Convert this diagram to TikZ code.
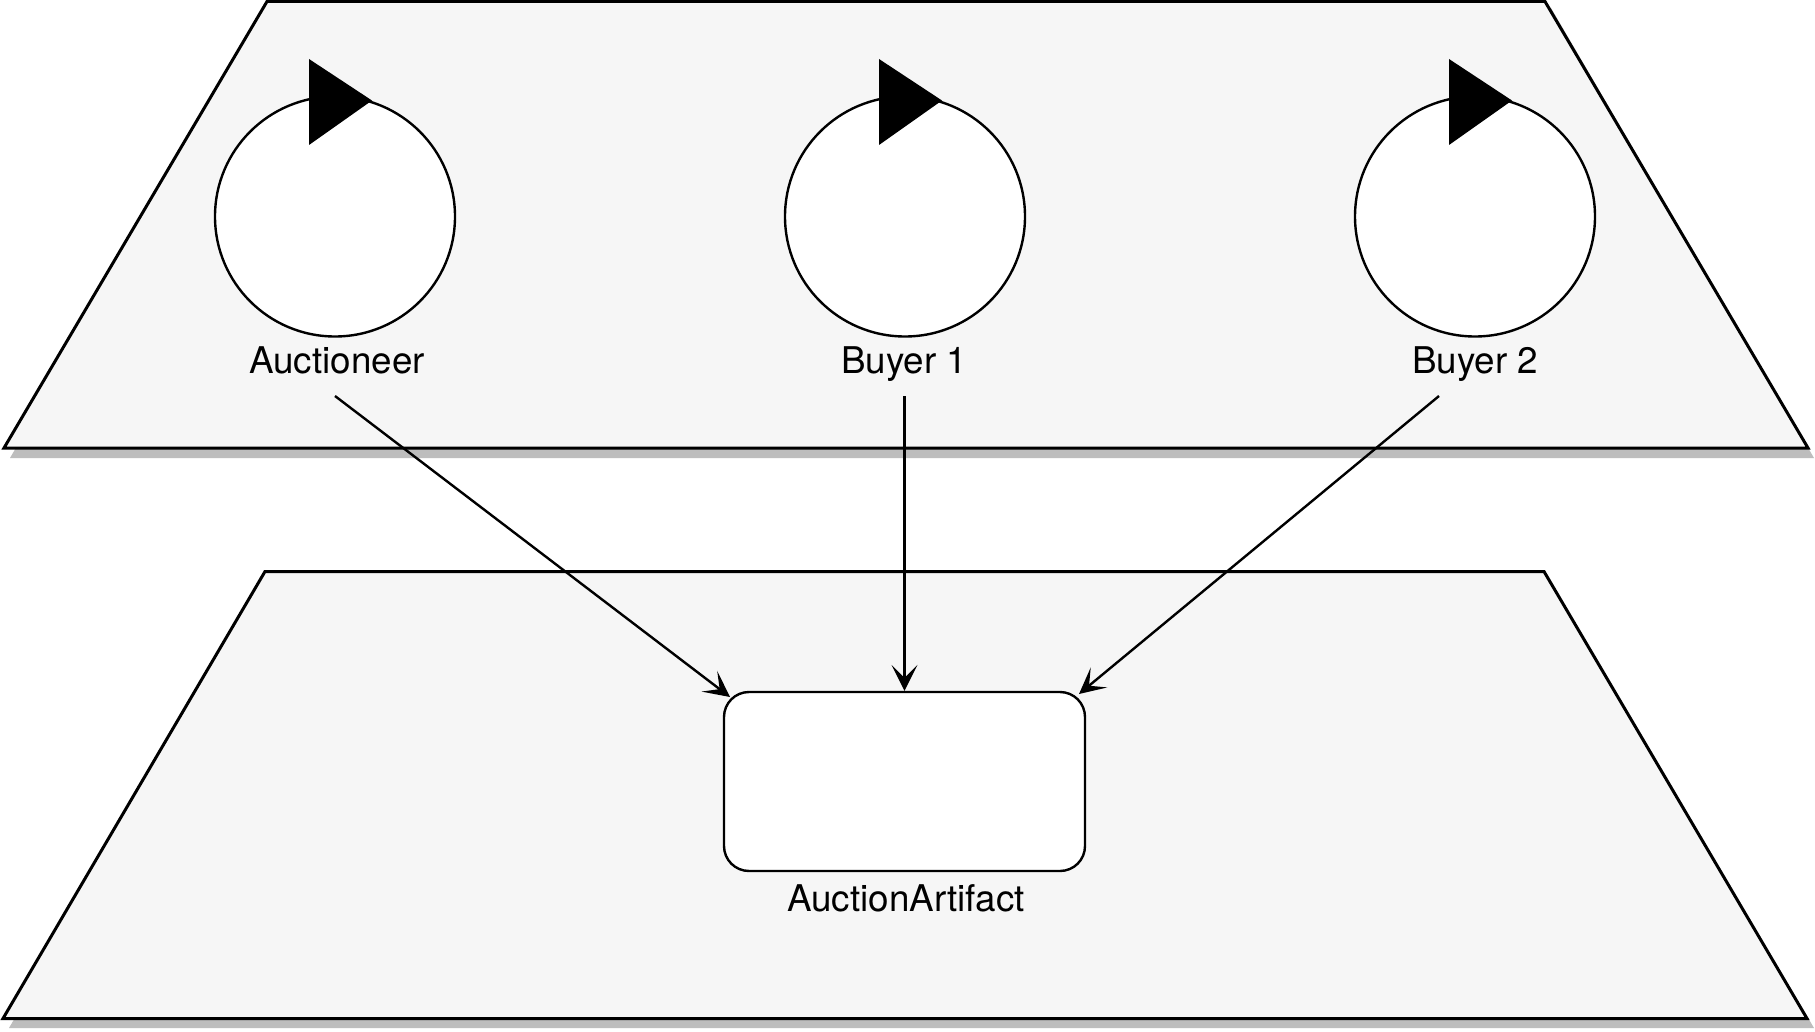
\documentclass[tikz,border=0pt]{standalone}
\usepackage{fontspec}
\setmainfont{TeX Gyre Heros}
\usetikzlibrary{arrows.meta}
\definecolor{panelfill}{HTML}{F6F6F6}
\definecolor{panelshadow}{HTML}{BDBDBD}
\tikzset{
  panel/.style={draw=black,fill=panelfill,line width=1.5pt,line join=miter},
  panelshade/.style={fill=panelshadow,draw=none},
  agent/.style={circle,draw=black,fill=white,line width=1.2pt,minimum size=120pt,inner sep=0pt},
  playmark/.style={fill=black,draw=none},
  artifact/.style={rectangle,draw=black,fill=white,line width=1.2pt,rounded corners=12.5pt,minimum width=180.5pt,minimum height=89.5pt,inner sep=0pt},
  caption/.style={anchor=base,inner sep=0pt,font=\fontsize{18.4pt}{22pt}\selectfont,text=black},
  link/.style={draw=black,line width=1.2pt,-{Stealth[length=13pt,width=13pt,inset=6.5pt,line width=0pt]}}
}
\begin{document}
\begin{tikzpicture}[x=0.5pt,y=-0.5pt]
\useasboundingbox (0,0) rectangle (1815,1032);
\fill[white] (0,0) rectangle (1815,1032);
% upper panel
\fill[panelshade] (273,8) -- (1551,8) -- (1814,458) -- (10,458) -- cycle;
\draw[panel] (267,1.5) -- (1545,1.5) -- (1808,448) -- (4,448) -- cycle;
% lower panel
\fill[panelshade] (271,582) -- (1550,582) -- (1814,1028) -- (9,1028) -- cycle;
\draw[panel] (265,571.5) -- (1544,571.5) -- (1807,1018.5) -- (3,1018.5) -- cycle;
% agents
\node[agent] (auctioneer) at (335,216.5) {};
\node[agent] (buyerA) at (905,216.5) {};
\node[agent] (buyerB) at (1475,216.5) {};
\fill[playmark] (309,59) -- (372,100.5) -- (309,145) -- cycle;
\fill[playmark] (879,59) -- (942,100.5) -- (879,145) -- cycle;
\fill[playmark] (1449,59) -- (1512,100.5) -- (1449,145) -- cycle;
\node[caption] (auctioneerlabel) at (337,373) {Auctioneer};
\node[caption] (buyerAlabel) at (904,373) {Buyer 1};
\node[caption] (buyerBlabel) at (1475,373) {Buyer 2};
% artifact
\node[artifact] (art) at (904.5,781.5) {};
\node[caption] (artlabel) at (906,911) {AuctionArtifact};
% connector ends
\coordinate (fromA) at (335,396);
\coordinate (fromB) at (904.5,396);
\coordinate (fromC) at (1439,396);
\coordinate (toA) at (730,697);
\coordinate (toC) at (1079,694);
\draw[link] (fromA) -- (toA);
\draw[link] (fromB) -- (art.north);
\draw[link] (fromC) -- (toC);
\end{tikzpicture}
\end{document}
